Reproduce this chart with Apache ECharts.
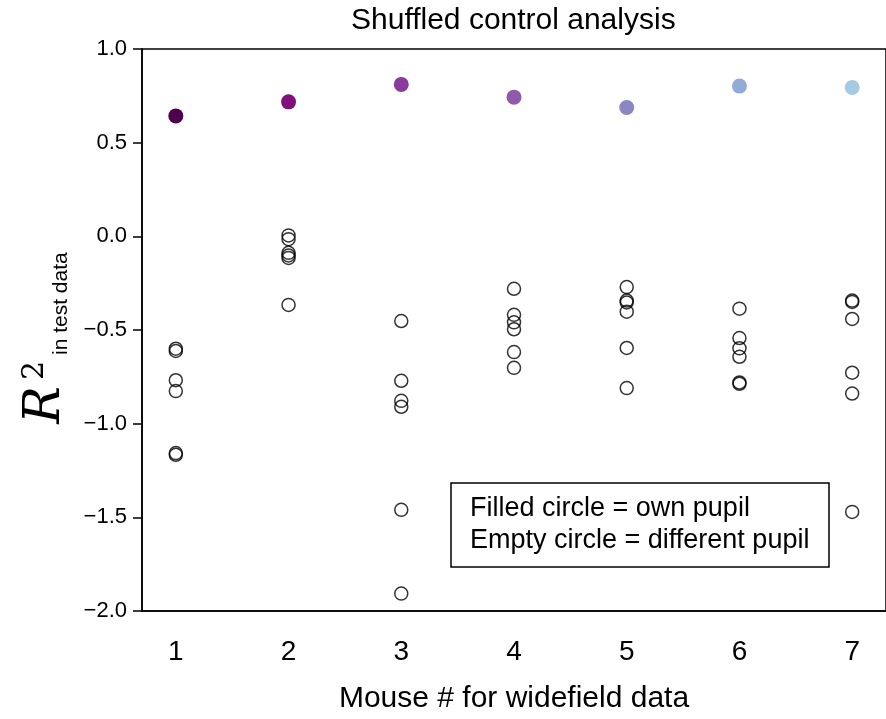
<!DOCTYPE html>
<html>
<head>
<meta charset="utf-8">
<script src="https://cdn.jsdelivr.net/npm/echarts@6/dist/echarts.min.js"></script>
<style>
html,body{margin:0;padding:0;background:#fff;}
#main{width:886px;height:719px;}
</style>
</head>
<body>
<div id="main"></div>
<script>
// Data
const mice = [1, 2, 3, 4, 5, 6, 7];
const ownPupilR2 = [0.643, 0.718, 0.811, 0.743, 0.688, 0.802, 0.795];
const ownColors = ['#4d004b', '#810f7c', '#8a3b9c', '#9159ab', '#8c87c3', '#93aad5', '#a8c9e3'];
const shuffled1 = [-0.600, -0.612, -0.768, -0.826, -1.157, -1.166];
const shuffled2 = [0.005, -0.015, -0.088, -0.102, -0.115, -0.366];
const shuffled3 = [-0.452, -0.771, -0.878, -0.910, -1.460, -1.907];
const shuffled4 = [-0.280, -0.419, -0.459, -0.496, -0.618, -0.702];
const shuffled5 = [-0.271, -0.343, -0.353, -0.402, -0.596, -0.810];
const shuffled6 = [-0.386, -0.543, -0.598, -0.643, -0.780, -0.787];
const shuffled7 = [-0.343, -0.350, -0.441, -0.728, -0.839, -1.471];
const shuffledAll = [shuffled1, shuffled2, shuffled3, shuffled4, shuffled5, shuffled6, shuffled7];
const yTicks = [-2.0, -1.5, -1.0, -0.5, 0.0, 0.5, 1.0];

const emptyData = [];
shuffledAll.forEach((arr, i) => arr.forEach(v => emptyData.push([mice[i], v])));
const filledData = mice.map((m, i) => ({value: [m, ownPupilR2[i]], itemStyle: {color: ownColors[i]}}));

const chart = echarts.init(document.getElementById('main'), null, {renderer: 'canvas'});
const font = "'Liberation Sans', Arial, sans-serif";
const serif = "'DejaVu Serif', 'Liberation Serif', serif";
chart.setOption({
  backgroundColor: '#fff',
  animation: false,
  title: [{
    text: 'Shuffled control analysis',
    left: 351, top: 6, padding: 0,
    textStyle: {fontFamily: font, fontSize: 30, fontWeight: 'normal', color: '#000'}
  }, {
    text: 'Filled circle = own pupil\nEmpty circle = different pupil',
    left: 451, top: 483,
    padding: [10, 20, 10, 19],
    borderColor: '#000', borderWidth: 1.5,
    backgroundColor: '#fff',
    textStyle: {fontFamily: font, fontSize: 27, fontWeight: 'normal', color: '#000', lineHeight: 32}
  }],
  grid: {left: 142, top: 49, width: 754, height: 562, show: true, borderColor: '#000', borderWidth: 1.5, backgroundColor: 'transparent'},
  xAxis: {
    type: 'value', min: 0.7, max: 7.3,
    name: 'Mouse # for widefield data', nameLocation: 'middle', nameGap: 73,
    nameTextStyle: {fontFamily: font, fontSize: 30, color: '#000'},
    axisLine: {show: true, onZero: false, lineStyle: {color: '#000', width: 1.5}},
    axisTick: {show: false},
    splitLine: {show: false},
    axisLabel: {
      fontFamily: font, fontSize: 28, color: '#000', margin: 27,
      showMinLabel: false, showMaxLabel: false,
      formatter: v => (Math.abs(v - Math.round(v)) < 1e-9 && mice.includes(Math.round(v))) ? String(Math.round(v)) : ''
    }
  },
  yAxis: {
    type: 'value', min: yTicks[0], max: yTicks[yTicks.length - 1], interval: 0.5,
    name: '{r|R}{s|2}{t|in test data}', nameLocation: 'middle', nameRotate: 90, nameGap: 70,
    nameTextStyle: {
      padding: [0, 16, 0, 0],
      rich: {
        r: {fontFamily: serif, fontStyle: 'italic', fontSize: 50, lineHeight: 52, color: '#000', verticalAlign: 'middle'},
        s: {fontFamily: serif, fontSize: 30, lineHeight: 52, color: '#000', verticalAlign: 'top', padding: [0, 6, 0, 6]},
        t: {fontFamily: font, fontSize: 21, lineHeight: 22, color: '#000', verticalAlign: 'bottom'}
      }
    },
    axisLine: {show: true, lineStyle: {color: '#000', width: 1.5}},
    axisTick: {show: true, length: 9, lineStyle: {color: '#000', width: 1.5}},
    splitLine: {show: false},
    axisLabel: {
      fontFamily: font, fontSize: 22, color: '#000', margin: 15,
      formatter: v => v.toFixed(1).replace('-', '\u2212')
    }
  },
  series: [{
    type: 'scatter',
    data: emptyData,
    symbol: 'circle', symbolSize: 13,
    itemStyle: {color: 'rgba(0,0,0,0)', borderColor: '#000', borderWidth: 1.5},
    z: 2
  }, {
    type: 'scatter',
    data: filledData,
    symbol: 'circle', symbolSize: 15,
    itemStyle: {opacity: 1},
    z: 3
  }]
});
</script>
</body>
</html>
